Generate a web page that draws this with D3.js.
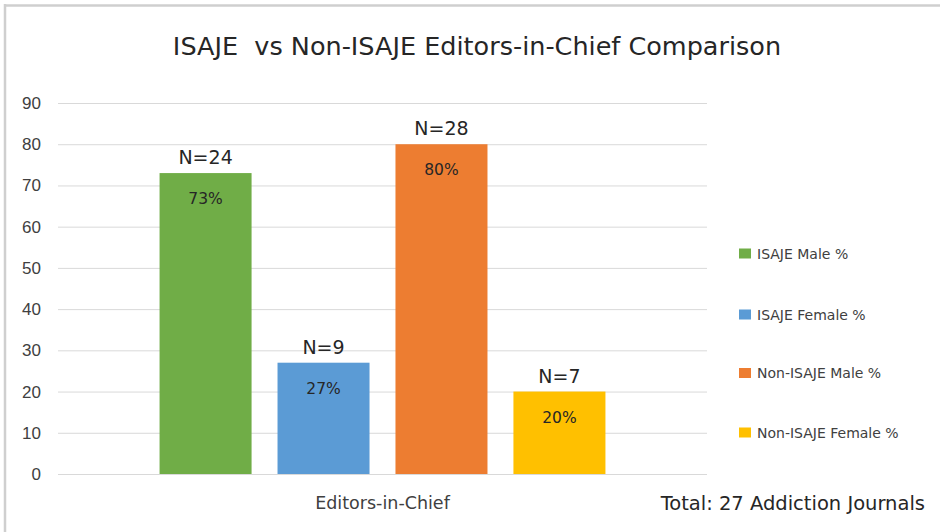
<!DOCTYPE html>
<html>
<head>
<meta charset="utf-8">
<script src="https://cdn.jsdelivr.net/npm/d3@7"></script>
<style>
  body { margin: 0; background: #fff; }
  svg { display: block; font-family: "DejaVu Sans", Verdana, sans-serif; }
</style>
</head>
<body>
<div id="chart"></div>
<script>
// chart data
var categories = ["Editors-in-Chief"];
var seriesNames = ["ISAJE Male %", "ISAJE Female %", "Non-ISAJE Male %", "Non-ISAJE Female %"];
var seriesValues = [73, 27, 80, 20];
var pctLabels = ["73%", "27%", "80%", "20%"];
var countLabels = ["N=24", "N=9", "N=28", "N=7"];
var seriesColors = ["#70ad47", "#5b9bd5", "#ed7d31", "#ffc000"];
var yTicks = [0, 10, 20, 30, 40, 50, 60, 70, 80, 90];

var W = 940, H = 532;
var margin = { top: 103, right: 233, bottom: 58, left: 58 };

var svg = d3.select("#chart").append("svg")
    .attr("width", W)
    .attr("height", H);

// outer frame (only top + left are in the picture)
svg.append("line").attr("x1", 4).attr("x2", W).attr("y1", 5.5).attr("y2", 5.5)
    .style("stroke", "#cfcfcf").style("stroke-width", 2.5);
svg.append("line").attr("x1", 5).attr("x2", 5).attr("y1", 4).attr("y2", H)
    .style("stroke", "#cfcfcf").style("stroke-width", 2.5);

var y = d3.scaleLinear()
    .domain([0, 90])
    .range([H - margin.bottom, margin.top]);

var x0 = d3.scaleBand()
    .domain(categories)
    .range([margin.left, W - margin.right])
    .paddingInner(0.273)
    .paddingOuter(0.1365);

var x1 = d3.scaleBand()
    .domain(seriesNames)
    .range([x0(categories[0]), x0(categories[0]) + x0.bandwidth()])
    .paddingInner(0.22)
    .paddingOuter(0.11);

// gridlines + y labels
var yAxis = svg.append("g")
    .attr("transform", "translate(" + margin.left + ",0)")
    .attr("font-size", 17)
    .attr("font-family", "'DejaVu Sans', sans-serif")
    .call(d3.axisLeft(y).tickValues(yTicks).tickSize(-(W - margin.right - margin.left)).tickPadding(17));
yAxis.select(".domain").remove();
yAxis.selectAll("line").style("stroke", "#d9d9d9").style("stroke-width", 1);
yAxis.selectAll("text")
    .style("font-size", "17px")
    .style("fill", "#404040");

// bars
var barData = seriesNames.map(function (name, i) {
    return { name: name, value: seriesValues[i], pct: pctLabels[i], n: countLabels[i], color: seriesColors[i] };
});

var g = svg.append("g");
g.selectAll("rect")
    .data(barData)
    .enter().append("rect")
    .attr("x", function (d) { return x1(d.name); })
    .attr("y", function (d) { return y(d.value); })
    .attr("width", x1.bandwidth())
    .attr("height", function (d) { return y(0) - y(d.value); })
    .style("fill", function (d) { return d.color; });

// percent labels inside bars
g.selectAll(".pct")
    .data(barData)
    .enter().append("text")
    .attr("class", "pct")
    .attr("x", function (d) { return x1(d.name) + x1.bandwidth() / 2; })
    .attr("y", function (d) { return y(d.value) + 31; })
    .style("text-anchor", "middle")
    .style("font-size", "15.5px")
    .style("fill", "#262626")
    .text(function (d) { return d.pct; });

// N= labels above bars
g.selectAll(".cnt")
    .data(barData)
    .enter().append("text")
    .attr("class", "cnt")
    .attr("x", function (d) { return x1(d.name) + x1.bandwidth() / 2; })
    .attr("y", function (d) { return y(d.value) - 9; })
    .style("text-anchor", "middle")
    .style("font-size", "19px")
    .style("fill", "#262626")
    .text(function (d) { return d.n; });

// x axis baseline + category label
svg.append("line")
    .attr("x1", margin.left).attr("x2", W - margin.right)
    .attr("y1", y(0) + 0.5).attr("y2", y(0) + 0.5)
    .style("stroke", "#d9d9d9");

svg.append("text")
    .attr("x", x0(categories[0]) + x0.bandwidth() / 2)
    .attr("y", 509)
    .style("text-anchor", "middle")
    .style("font-size", "17.5px")
    .style("fill", "#404040")
    .text(categories[0]);

svg.append("text")
    .attr("x", 925)
    .attr("y", 510)
    .style("text-anchor", "end")
    .style("font-size", "19.5px")
    .style("fill", "#262626")
    .text("Total: 27 Addiction Journals");

// title
svg.append("text")
    .attr("x", 477)
    .attr("y", 55)
    .attr("xml:space", "preserve")
    .style("text-anchor", "middle")
    .style("font-size", "25.5px")
    .style("fill", "#262626")
    .text("ISAJE  vs Non-ISAJE Editors-in-Chief Comparison");

// legend
var legendY = [253.5, 314.5, 373, 432.5];
var legend = svg.selectAll(".legend")
    .data(barData)
    .enter().append("g")
    .attr("class", "legend")
    .attr("transform", function (d, i) { return "translate(739," + legendY[i] + ")"; });
legend.append("rect")
    .attr("x", 0).attr("y", -5)
    .attr("width", 12).attr("height", 10)
    .style("fill", function (d) { return d.color; });
legend.append("text")
    .attr("x", 18).attr("y", 5)
    .style("font-size", "14px")
    .style("fill", "#404040")
    .text(function (d) { return d.name; });
</script>
</body>
</html>
